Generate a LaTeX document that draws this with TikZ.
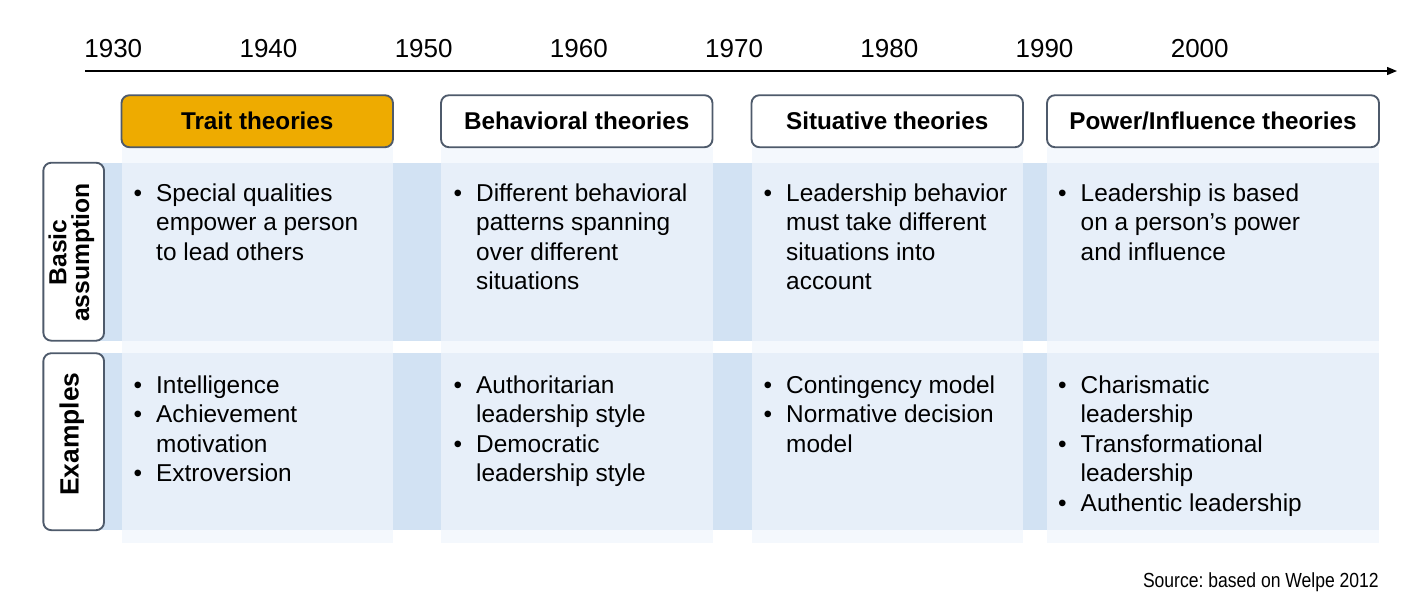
\documentclass[tikz,border=0pt]{standalone}
\usepackage{fontspec}
\usepackage{graphicx}
\setmainfont{Liberation Sans}
\usetikzlibrary{arrows.meta}
\frenchspacing

\definecolor{bandblue}{HTML}{D2E2F3}
\definecolor{cellblue}{HTML}{E7EFF9}
\definecolor{colpale}{HTML}{F4F8FD}
\definecolor{traitgold}{HTML}{EEAB00}
\definecolor{framegray}{HTML}{4E5A6B}

% bullet item marker and a bulleted block
\newcommand\bul{\makebox[17pt][l]{\textbullet}}
\newcommand\blist[1]{\begin{tabular}[t]{@{}l@{}l@{}}#1\end{tabular}}

\begin{document}
\begin{tikzpicture}[x=0.75pt,y=-0.75pt,
  year/.style={anchor=base, inner sep=0pt, font=\fontsize{19.5}{22}\selectfont},
  header/.style={draw=framegray, line width=1.4pt, rounded corners=6pt, fill=white,
    font=\bfseries\fontsize{18.2}{21}\selectfont, text height=13pt, text depth=0pt,
    inner sep=0pt, minimum height={52*0.75pt}},
  sidebox/.style={draw=framegray, line width=1.4pt, rounded corners=6pt, fill=white,
    inner sep=0pt, minimum width={60.7*0.75pt}},
  sidetext/.style={rotate=90, align=center, inner sep=0pt},
  cell/.style={anchor=base west, inner sep=0pt, font=\fontsize{18.3}{22.2}\selectfont},
  timeline/.style={line width=1pt, -{Triangle[length=7.5pt,width=6pt]}}
]
\useasboundingbox (0,0) rectangle (1416,601);

% timeline
\coordinate (tl) at (85,71);
\coordinate (tr) at (1397,71);
\draw[timeline] (tl) -- (tr);
\foreach \yr [count=\i from 0] in {1930,1940,...,2000}
  \node[year] (y\yr) at (113.3+155.2*\i,57.7) {\yr};

% column strips, row bands and their crossings
\foreach \l/\r in {121.5/393,441/712.5,751.5/1023,1047/1379}
  \fill[colpale] (\l,147) rectangle (\r,543);
\fill[bandblue] (74,163) rectangle (1379,340.5);
\fill[bandblue] (74,353) rectangle (1379,530);
\foreach \l/\r in {121.5/393,441/712.5,751.5/1023,1047/1379}{
  \fill[cellblue] (\l,163) rectangle (\r,340.5);
  \fill[cellblue] (\l,353) rectangle (\r,530);
}

% theory headers
\node[header, fill=traitgold, minimum width={271.5*0.75pt}] (h1) at (257.25,121.2) {Trait theories};
\node[header, minimum width={271.5*0.75pt}] (h2) at (576.75,121.2) {Behavioral theories};
\node[header, minimum width={271.5*0.75pt}] (h3) at (887.25,121.2) {Situative theories};
\node[header, minimum width={332*0.75pt}] (h4) at (1213,121.2) {Power/Influence theories};

% row labels
\node[sidebox, minimum height={178*0.75pt}] (sb1) at (73.7,251.7) {};
\node[sidetext, font=\bfseries\fontsize{18.5}{17.2}\selectfont] (st1) at (71.4,252.5) {Basic\\assumption};
\node[sidebox, minimum height={177*0.75pt}] (sb2) at (73.7,441.7) {};
\node[sidetext, font=\bfseries\fontsize{19.8}{20}\selectfont] (st2) at (71.7,434) {Examples};

% basic assumptions
\node[cell] (a1) at (133.3,201) {\blist{\bul&Special qualities\\&empower a person\\&to lead others}};
\node[cell] (a2) at (453.3,201) {\blist{\bul&Different behavioral\\&patterns spanning\\&over different\\&situations}};
\node[cell] (a3) at (763.3,201) {\blist{\bul&Leadership behavior\\&must take different\\&situations into\\&account}};
\node[cell] (a4) at (1057.8,201) {\blist{\bul&Leadership is based\\&on a person’s power\\&and influence}};

% examples
\node[cell] (e1) at (133.3,393) {\blist{\bul&Intelligence\\\bul&Achievement\\&motivation\\\bul&Extroversion}};
\node[cell] (e2) at (453.3,393) {\blist{\bul&Authoritarian\\&leadership style\\\bul&Democratic\\&leadership style}};
\node[cell] (e3) at (763.3,393) {\blist{\bul&Contingency model\\\bul&Normative decision\\&model}};
\node[cell] (e4) at (1057.8,393) {\blist{\bul&Charismatic\\&leadership\\\bul&Transformational\\&leadership\\\bul&Authentic leadership}};

% source note
\node[anchor=base east, inner sep=0pt, font=\fontsize{15.3}{18}\selectfont] (src) at (1379,587.3)
  {\scalebox{0.86}[1]{Source: based on Welpe 2012}};
\end{tikzpicture}
\end{document}
